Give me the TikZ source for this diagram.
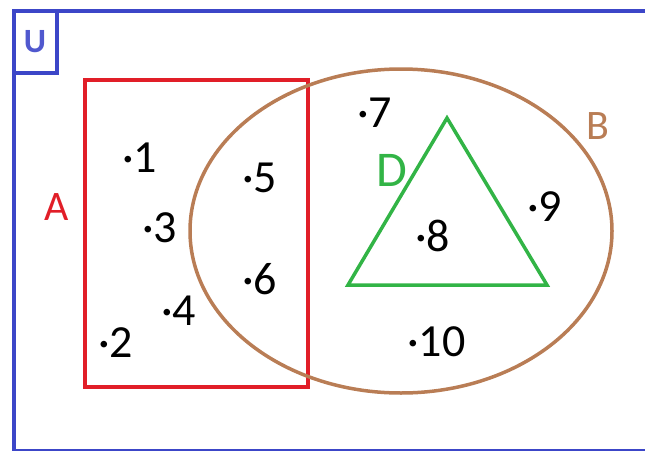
\documentclass[tikz,border=0pt]{standalone}
\usepackage{fontspec}
\setmainfont{Carlito}
\usepackage{tikz}
\usetikzlibrary{positioning}
\usepackage{xcolor}

\definecolor{frameblue}{RGB}{60,70,200}
\definecolor{setred}{RGB}{225,30,40}
\definecolor{setbrown}{RGB}{185,125,85}
\definecolor{setgreen}{RGB}{50,180,70}

\tikzset{
  elem/.style={anchor=west, inner sep=0pt, font=\fontsize{46}{46}\selectfont},
  setlabel/.style={inner sep=0pt, font=\fontsize{42}{42}\selectfont},
}

\begin{document}
\begin{tikzpicture}[x=1pt, y=-1pt]
\useasboundingbox (0,0) rectangle (645,450);
\clip (0,0) rectangle (645,450);

% --- Insieme universo U ---
\draw[frameblue, line width=4] (14,11) rectangle (700,450.5);
\draw[frameblue, line width=4] (14,11) rectangle (57,73);
\node[inner sep=0pt, text=frameblue!90, font=\bfseries\fontsize{34}{34}\selectfont] (lblU) at (35,42) {U};

% --- Insiemi A, B, D ---
\draw[setred, line width=4] (85,80) rectangle (308,387);
\draw[setbrown, line width=3.5] (401,231) ellipse [x radius=211, y radius=162];
\draw[setgreen, line width=3.5] (447,118) -- (348,285) -- (547,285) -- cycle;

\node[setlabel, text=setred] (lblA) at (57,207) {A};
\node[setlabel, text=setbrown] (lblB) at (598,126) {B};
\node[setlabel, text=setgreen, font=\fontsize{50}{50}\selectfont] (lblD) at (392,170) {D};

% --- Elementi ---
\foreach \n/\x/\y in {1/128/158, 2/104/343, 3/148/228, 4/167/311, 5/248/178,
                      6/248/279, 7/363/113, 8/421/236, 9/533/207, 10/413/342}{
  \node[elem] (p\n) at (\x-6,\y) {·\n};
}

\end{tikzpicture}
\end{document}
